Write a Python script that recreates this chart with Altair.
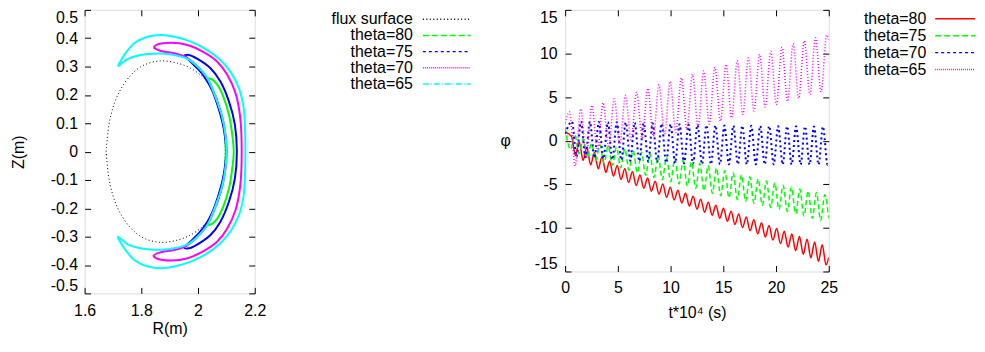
import altair as alt
import pandas as pd

FONT = "Liberation Sans"

# ---------------- left panel: orbits in the (R, Z) plane ----------------
flux_R = [1.676, 1.688, 1.717, 1.764, 1.811, 1.869, 1.927, 1.974, 2.021, 2.056, 2.079, 2.091, 2.096,
          2.091, 2.079, 2.056, 2.021, 1.974, 1.927, 1.869, 1.811, 1.764, 1.717, 1.688, 1.676]
flux_Z = [0.0, 0.107, 0.200, 0.271, 0.306, 0.320, 0.312, 0.294, 0.259, 0.212, 0.154, 0.084, 0.0,
          -0.084, -0.154, -0.212, -0.259, -0.294, -0.312, -0.320, -0.306, -0.271, -0.200, -0.107, 0.0]

o80_R = [2.033, 2.044, 2.068, 2.091, 2.109, 2.119, 2.126, 2.119, 2.109, 2.091, 2.068, 2.044, 2.033,
         2.045, 2.062, 2.080, 2.093, 2.098, 2.093, 2.080, 2.062, 2.045, 2.033]
o80_Z = [0.257, 0.257, 0.236, 0.189, 0.130, 0.072, 0.0, -0.072, -0.130, -0.189, -0.236, -0.257, -0.257,
         -0.235, -0.190, -0.130, -0.070, 0.0, 0.070, 0.130, 0.190, 0.235, 0.257]

o75_R = [1.951, 1.968, 1.998, 2.044, 2.079, 2.109, 2.130, 2.137, 2.130, 2.109, 2.079, 2.044, 1.998, 1.968, 1.951,
         1.974, 2.003, 2.025, 2.050, 2.070, 2.087, 2.097, 2.099, 2.097, 2.087, 2.070, 2.050, 2.025, 2.003, 1.974, 1.951]
o75_Z = [0.339, 0.341, 0.327, 0.294, 0.247, 0.177, 0.095, 0.0, -0.095, -0.177, -0.247, -0.294, -0.327, -0.341, -0.339,
         -0.317, -0.288, -0.260, -0.215, -0.160, -0.100, -0.040, 0.0, 0.040, 0.100, 0.160, 0.215, 0.260, 0.288, 0.317, 0.339]

o70_R = [1.843, 1.857, 1.904, 1.963, 2.021, 2.067, 2.103, 2.132, 2.149, 2.154, 2.149, 2.132, 2.103, 2.067, 2.021,
         1.963, 1.904, 1.857, 1.843,
         1.869, 1.916, 1.957, 1.990, 2.030, 2.062, 2.086, 2.098, 2.101, 2.098, 2.086, 2.062, 2.030, 1.990, 1.957,
         1.916, 1.869, 1.843]
o70_Z = [0.367, 0.378, 0.384, 0.376, 0.350, 0.318, 0.271, 0.207, 0.119, 0.0, -0.119, -0.207, -0.271, -0.318, -0.350,
         -0.376, -0.384, -0.378, -0.367,
         -0.355, -0.347, -0.333, -0.308, -0.262, -0.192, -0.120, -0.050, 0.0, 0.050, 0.120, 0.192, 0.262, 0.308, 0.333,
         0.347, 0.355, 0.367]

o65_R = [1.717, 1.740, 1.775, 1.822, 1.869, 1.916, 1.974, 2.033, 2.079, 2.114, 2.144, 2.161, 2.166, 2.167,
         2.166, 2.161, 2.144, 2.114, 2.079, 2.033, 1.974, 1.916, 1.869, 1.822, 1.775, 1.740, 1.717,
         1.752, 1.788, 1.822, 1.869, 1.916, 1.963, 1.998, 2.033, 2.063, 2.086, 2.098, 2.100,
         2.098, 2.086, 2.063, 2.033, 1.998, 1.963, 1.916, 1.869, 1.822, 1.788, 1.752, 1.717]
o65_Z = [0.300, 0.341, 0.382, 0.405, 0.411, 0.405, 0.388, 0.358, 0.323, 0.282, 0.224, 0.154, 0.072, 0.0,
         -0.072, -0.154, -0.224, -0.282, -0.323, -0.358, -0.388, -0.405, -0.411, -0.405, -0.382, -0.341, -0.300,
         -0.327, -0.339, -0.344, -0.346, -0.341, -0.327, -0.300, -0.259, -0.189, -0.119, -0.049, 0.0,
         0.049, 0.119, 0.189, 0.259, 0.300, 0.327, 0.341, 0.346, 0.344, 0.339, 0.327, 0.300]

left_labels = ["flux surface", "theta=80", "theta=75", "theta=70", "theta=65"]
left_colors = ["#000000", "#00ff00", "#0000ff", "#ff00ff", "#00ffff"]
left_dashes = [[1, 2.5], [6, 3], [3, 3], [1, 1], [6, 2, 1, 2]]
left_x_ticks = [1.6, 1.8, 2, 2.2]
left_y_ticks = [-0.5, -0.4, -0.3, -0.2, -0.1, 0, 0.1, 0.2, 0.3, 0.4, 0.5]

# ---------------- right panel: phi(t) ----------------
t80 = [0, 0.62, 0.98, 1.34, 1.70, 2.06, 2.42, 2.78, 3.14, 3.50, 3.86, 4.22, 4.58, 4.94, 5.30, 5.66, 6.02,
       6.38, 6.74, 7.10, 7.46, 7.82, 8.18, 8.54, 8.90, 9.26, 9.62, 9.98, 10.34, 10.70, 11.06, 11.42, 11.78,
       12.14, 12.50, 12.86, 13.22, 13.58, 13.94, 14.30, 14.66, 15.02, 15.38, 15.74, 16.10, 16.46, 16.82,
       17.18, 17.54, 17.90, 18.26, 18.62, 18.98, 19.34, 19.70, 20.06, 20.42, 20.78, 21.14, 21.50, 21.86,
       22.22, 22.58, 22.94, 23.30, 23.66, 24.02, 24.38, 24.74, 25.0]
p80 = [1.0, 0.46, -1.72, -0.15, -2.26, -0.77, -2.79, -1.35, -3.22, -1.85, -3.64, -2.35, -4.06, -2.86, -4.44,
       -3.23, -4.78, -3.57, -5.13, -3.93, -5.46, -4.28, -5.80, -4.64, -6.13, -4.98, -6.48, -5.34, -6.81,
       -5.69, -7.16, -6.03, -7.50, -6.38, -7.85, -6.72, -8.20, -7.07, -8.54, -7.41, -8.89, -7.76, -9.24,
       -8.10, -9.60, -8.42, -9.96, -8.76, -10.32, -9.08, -10.68, -9.42, -11.04, -9.74, -11.40, -10.08,
       -11.79, -10.39, -12.20, -10.69, -12.61, -11.00, -13.02, -11.31, -13.43, -11.62, -13.84, -11.93,
       -14.25, -13.4]

t75 = [0, 0.52, 0.92, 1.32, 1.71, 2.11, 2.50, 2.90, 3.29, 3.69, 4.08, 4.48, 4.87, 5.27, 5.66, 6.06, 6.45,
       6.85, 7.24, 7.64, 8.03, 8.43, 8.82, 9.22, 9.61, 10.01, 10.40, 10.80, 11.19, 11.59, 11.98, 12.38,
       12.77, 13.17, 13.56, 13.96, 14.35, 14.75, 15.14, 15.54, 15.93, 16.33, 16.72, 17.12, 17.51, 17.91,
       18.30, 18.70, 19.09, 19.49, 19.88, 20.28, 20.67, 21.07, 21.46, 21.86, 22.25, 22.65, 23.04, 23.44,
       23.83, 24.23, 24.62, 25.0]
p75 = [1.5, -1.01, 0.73, -1.49, 0.21, -1.97, -0.30, -2.33, -0.46, -2.58, -0.62, -2.83, -0.77, -3.10, -0.95,
       -3.39, -1.14, -3.68, -1.32, -3.97, -1.51, -4.23, -1.71, -4.47, -1.90, -4.70, -2.09, -4.96, -2.25,
       -5.21, -2.42, -5.46, -2.59, -5.74, -2.88, -6.03, -3.16, -6.31, -3.44, -6.54, -3.68, -6.75, -3.92,
       -6.97, -4.15, -7.18, -4.39, -7.41, -4.63, -7.65, -4.86, -7.88, -5.10, -8.12, -5.33, -8.38, -5.54,
       -8.64, -5.76, -8.89, -5.98, -9.15, -6.20, -8.9]

t70 = [0, 0.65, 1.08, 1.50, 1.93, 2.35, 2.78, 3.20, 3.63, 4.05, 4.48, 4.90, 5.33, 5.75, 6.18, 6.60, 7.03,
       7.45, 7.88, 8.30, 8.73, 9.15, 9.58, 10.00, 10.43, 10.85, 11.28, 11.70, 12.13, 12.55, 12.98, 13.40,
       13.83, 14.25, 14.68, 15.10, 15.53, 15.95, 16.38, 16.80, 17.23, 17.65, 18.08, 18.50, 18.93, 19.35,
       19.78, 20.20, 20.63, 21.05, 21.48, 21.90, 22.33, 22.75, 23.18, 23.60, 24.03, 24.45, 24.88, 25.0]
p70 = [0.8, 2.19, -1.81, 2.18, -1.89, 2.16, -1.98, 2.15, -2.06, 2.13, -2.15, 2.12, -2.22, 2.10, -2.28, 2.07,
       -2.34, 2.02, -2.40, 1.99, -2.46, 1.94, -2.52, 1.90, -2.57, 1.87, -2.61, 1.84, -2.64, 1.80, -2.68,
       1.77, -2.70, 1.75, -2.70, 1.73, -2.71, 1.72, -2.71, 1.71, -2.72, 1.70, -2.72, 1.69, -2.72, 1.67,
       -2.73, 1.66, -2.73, 1.65, -2.74, 1.64, -2.74, 1.63, -2.74, 1.62, -2.75, 1.61, -2.75, -2.5]

t65 = [0, 0.42, 0.95, 1.48, 2.01, 2.54, 3.07, 3.60, 4.13, 4.66, 5.19, 5.72, 6.25, 6.78, 7.31, 7.84, 8.37,
       8.90, 9.43, 9.96, 10.49, 11.02, 11.55, 12.08, 12.61, 13.14, 13.67, 14.20, 14.73, 15.26, 15.79, 16.32,
       16.85, 17.38, 17.91, 18.44, 18.97, 19.50, 20.03, 20.56, 21.09, 21.62, 22.15, 22.68, 23.21, 23.74,
       24.27, 24.80, 25.0]
p65 = [2.0, 3.3, -2.9, 3.65, -1.9, 4.05, -1.2, 4.35, -0.8, 4.8, -0.4, 5.2, 0.1, 5.55, 0.3, 6.0, 0.5, 6.4,
       0.75, 6.8, 0.95, 7.2, 1.3, 7.6, 1.55, 8.0, 1.9, 8.4, 2.25, 8.75, 2.6, 9.15, 3.0, 9.5, 3.4, 9.9, 3.85,
       10.25, 4.15, 10.7, 4.5, 11.1, 4.85, 11.45, 5.3, 11.8, 5.6, 12.1, 11.6]

right_labels = ["theta=80", "theta=75", "theta=70", "theta=65"]
right_colors = ["#ff0000", "#00ff00", "#0000ff", "#ff00ff"]
right_dashes = [[1, 0], [6, 3], [3, 3], [1, 1]]
right_x_ticks = [0, 5, 10, 15, 20, 25]
right_y_ticks = [-15, -10, -5, 0, 5, 10, 15]

# ---------------- helpers ----------------
common_axis = dict(domain=False, grid=False, ticks=True, tickSize=6, tickColor="black", tickWidth=1,
                   offset=-6, labelFont=FONT, labelFontSize=16, labelColor="black", titleFont=FONT,
                   titleFontSize=16, titleFontWeight="normal", titleColor="black", labelOverlap=False,
                   labelExpr="toString(datum.value)")


def path_df(xs, ys, xn, yn):
    return pd.DataFrame({xn: xs, yn: ys, "k": list(range(len(xs)))})


def panel(series, xn, yn, xdom, ydom, xticks, yticks, xaxis, yaxis, interp,
          labels, colors, dashes, text_x, rule_x, rule_x2, leg_range, width, height):
    xs = alt.Scale(domain=xdom, nice=False, zero=False)
    ys = alt.Scale(domain=ydom, nice=False, zero=False)
    layers = []
    for df, color, sw, dash in series:
        kw = dict(color=color, strokeWidth=sw, interpolate=interp, clip=True)
        if dash is not None:
            kw["strokeDash"] = dash
        layers.append(
            alt.Chart(df).mark_line(**kw).encode(
                x=alt.X(f"{xn}:Q", scale=xs, axis=alt.Axis(values=xticks, orient="bottom", **xaxis, **common_axis)),
                y=alt.Y(f"{yn}:Q", scale=ys, axis=alt.Axis(values=yticks, orient="left", **yaxis, **common_axis)),
                order="k:Q",
            )
        )
    data = alt.layer(*layers)

    mirror_axis = {k: v for k, v in common_axis.items() if k != "labelExpr"}
    mirror = alt.Chart(series[0][0]).mark_point(opacity=0).encode(
        x=alt.X(f"{xn}:Q", scale=xs, axis=alt.Axis(values=xticks, orient="top", labels=False, title=None, **mirror_axis)),
        y=alt.Y(f"{yn}:Q", scale=ys, axis=alt.Axis(values=yticks, orient="right", labels=False, title=None, **mirror_axis)),
    )

    leg_df = pd.DataFrame({"label": labels})
    ly = alt.Y("label:N", scale=alt.Scale(type="point", domain=labels, range=leg_range, padding=0), axis=None)
    leg_text = alt.Chart(leg_df).mark_text(align="right", baseline="middle", font=FONT, fontSize=16,
                                           color="black").encode(x=alt.value(text_x), y=ly, text="label:N")
    leg_rule = alt.Chart(leg_df).mark_rule(strokeWidth=1.5).encode(
        x=alt.value(rule_x), x2=alt.value(rule_x2), y=ly,
        color=alt.Color("label:N", scale=alt.Scale(domain=labels, range=colors), legend=None),
        strokeDash=alt.StrokeDash("label:N", scale=alt.Scale(domain=labels, range=dashes), legend=None),
    )
    legend = alt.layer(leg_text, leg_rule)

    return alt.layer(data, mirror, legend).resolve_scale(
        x="independent", y="independent", color="independent", strokeDash="independent"
    ).properties(width=width, height=height)


left_series = [
    (path_df(flux_R, flux_Z, "R", "Z"), "#000000", 1, [1, 2.5]),
    (path_df(o80_R, o80_Z, "R", "Z"), "#00ff00", 2, None),
    (path_df(o75_R, o75_Z, "R", "Z"), "#0000ff", 2, None),
    (path_df(o70_R, o70_Z, "R", "Z"), "#ff00ff", 2, None),
    (path_df(o65_R, o65_Z, "R", "Z"), "#00ffff", 2, None),
]
left = panel(
    left_series, "R", "Z", [1.6, 2.2], [-0.5, 0.5], left_x_ticks, left_y_ticks,
    dict(title="R(m)", labelPadding=9, titlePadding=2, labelFlush=False),
    dict(title="Z(m)", labelPadding=7, titlePadding=24, labelFlush=True),
    "catmull-rom", left_labels, left_colors, left_dashes, 330, 340, 388, [9.5, 74.5], 171, 285,
)

right_series = [
    (path_df(t80, p80, "t", "phi"), "#ff0000", 1.5, None),
    (path_df(t75, p75, "t", "phi"), "#00ff00", 1.5, [5, 3]),
    (path_df(t70, p70, "t", "phi"), "#0000ff", 2, [2, 3]),
    (path_df(t65, p65, "t", "phi"), "#ff00ff", 1.5, [1, 2]),
]
right = panel(
    right_series, "t", "phi", [0, 25], [-15, 15], right_x_ticks, right_y_ticks,
    dict(title="t*10\u2074 (s)", labelPadding=8, titlePadding=9, labelFlush=False),
    dict(title="\u03c6", titleAngle=0, titleAlign="right", titleBaseline="middle",
         labelPadding=8, titlePadding=24, labelFlush=True),
    "monotone", right_labels, right_colors, right_dashes, 363, 372, 412, [9, 60], 265, 263,
)

chart = alt.hconcat(left, right, spacing=27).properties(
    padding={"left": 1, "top": 0, "right": 0, "bottom": 0}
).configure_view(stroke="black", strokeWidth=1.5).configure(background="white", font=FONT)

chart.save("out.html", embed_options={"renderer": "svg", "actions": False})
